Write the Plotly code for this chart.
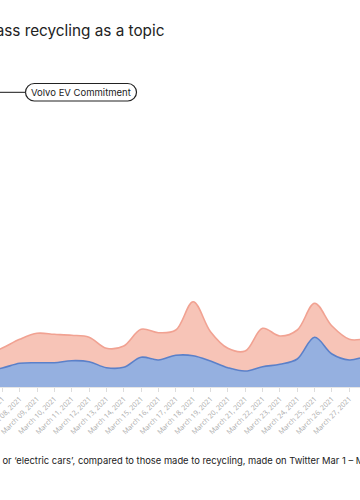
import plotly.graph_objects as go
import pandas as pd

# ---- data ----
dates = pd.date_range("2021-03-06", "2021-03-30", freq="D")
recycling = [160, 190, 237, 243, 243, 263, 253, 193, 197, 297, 270, 317, 313,
             260, 193, 160, 203, 227, 280, 497, 330, 270, 303, 300, 295]
electric = [160, 200, 240, 294, 284, 254, 244, 194, 213, 280, 273, 253, 540,
            293, 194, 200, 384, 283, 290, 340, 280, 207, 177, 170, 170]
series_names = ["Recycling", "Electric vehicles"]
title_text = "Electric vehicles surpass recycling as a topic"
caption_text = ("Mentions of \u2018electric vehicles\u2019 or \u2018electric cars\u2019, compared to those "
                "made to recycling, made on Twitter Mar 1 \u2013 Mar 31, 2021")
event_label = "Volvo EV Commitment"

# ---- layout constants ----
W, H = 360, 500
TOP, BASE = 60, 387          # pixel rows of plot top / baseline
PH = BASE - TOP

def px(x):
    return x / W

def py(y):
    return (BASE - y) / PH

fig = go.Figure()
fig.add_trace(go.Scatter(
    x=dates, y=recycling, name=series_names[0], stackgroup="a", mode="lines",
    line=dict(color="#5b80c9", width=1.6, shape="spline"), fillcolor="#95b0e0"))
fig.add_trace(go.Scatter(
    x=dates, y=electric, name=series_names[1], stackgroup="a", mode="lines",
    line=dict(color="#f1a292", width=1.6, shape="spline"), fillcolor="#f7c4b7"))

# pill-shaped label box
x0, x1, yt, yb = 25.5, 136.5, 83.5, 101
r = (yb - yt) / 2
k = 0.5523 * r
pts = [
    ("M", [(x0 + r, yt)]),
    ("L", [(x1 - r, yt)]),
    ("C", [(x1 - r + k, yt), (x1, yt + r - k), (x1, yt + r)]),
    ("C", [(x1, yt + r + k), (x1 - r + k, yb), (x1 - r, yb)]),
    ("L", [(x0 + r, yb)]),
    ("C", [(x0 + r - k, yb), (x0, yt + r + k), (x0, yt + r)]),
    ("C", [(x0, yt + r - k), (x0 + r - k, yt), (x0 + r, yt)]),
]
path = " ".join(cmd + " " + " ".join(f"{px(a):.5f},{py(b):.5f}" for a, b in p) for cmd, p in pts) + " Z"
fig.add_shape(type="path", path=path, xref="paper", yref="paper",
              line=dict(color="#222222", width=1.2), fillcolor="white")
fig.add_shape(type="line", xref="paper", yref="paper",
              x0=px(-90), x1=px(x0), y0=py(92.3), y1=py(92.3),
              line=dict(color="#444444", width=1.2))
fig.add_annotation(text=event_label, xref="paper", yref="paper",
                   x=px((x0 + x1) / 2), y=py(92.3), xanchor="center", yanchor="middle",
                   showarrow=False, font=dict(family="Inter", size=9.5, color="#222222"))

# title (right end visible)
fig.add_annotation(text=title_text, xref="paper", yref="paper",
                   x=px(166), y=py(30), xanchor="right", yanchor="middle",
                   showarrow=False, font=dict(family="Inter", size=15.3, color="#222222"))
# caption
fig.add_annotation(text=caption_text, xref="paper", yref="paper",
                   x=px(-134), y=py(460.5), xanchor="left", yanchor="middle",
                   showarrow=False, font=dict(family="Inter", size=9.4, color="#222222"))

fig.update_layout(
    width=W, height=H,
    margin=dict(l=0, r=0, t=TOP, b=H - BASE, autoexpand=False),
    paper_bgcolor="white", plot_bgcolor="white",
    showlegend=False,
    xaxis=dict(range=["2021-03-06 20:49", "2021-03-27 14:48"],
               dtick=86400000, tick0="2021-03-01", tickformat="%B %d, %Y",
               tickangle=-45, showgrid=False, zeroline=False,
               showline=True, linecolor="#e6e6e6", linewidth=1,
               ticks="outside", ticklen=4, tickcolor="#dddddd",
               ticklabeloverflow="allow", automargin=False,
               tickfont=dict(family="Open Sans", size=7, color="#aaaaaa")),
    yaxis=dict(range=[0, PH * 10], visible=False, showgrid=False, zeroline=False,
               automargin=False),
)

fig.write_html("out.html", config={"displayModeBar": False},
               post_script="document.body.style.margin='0';")
